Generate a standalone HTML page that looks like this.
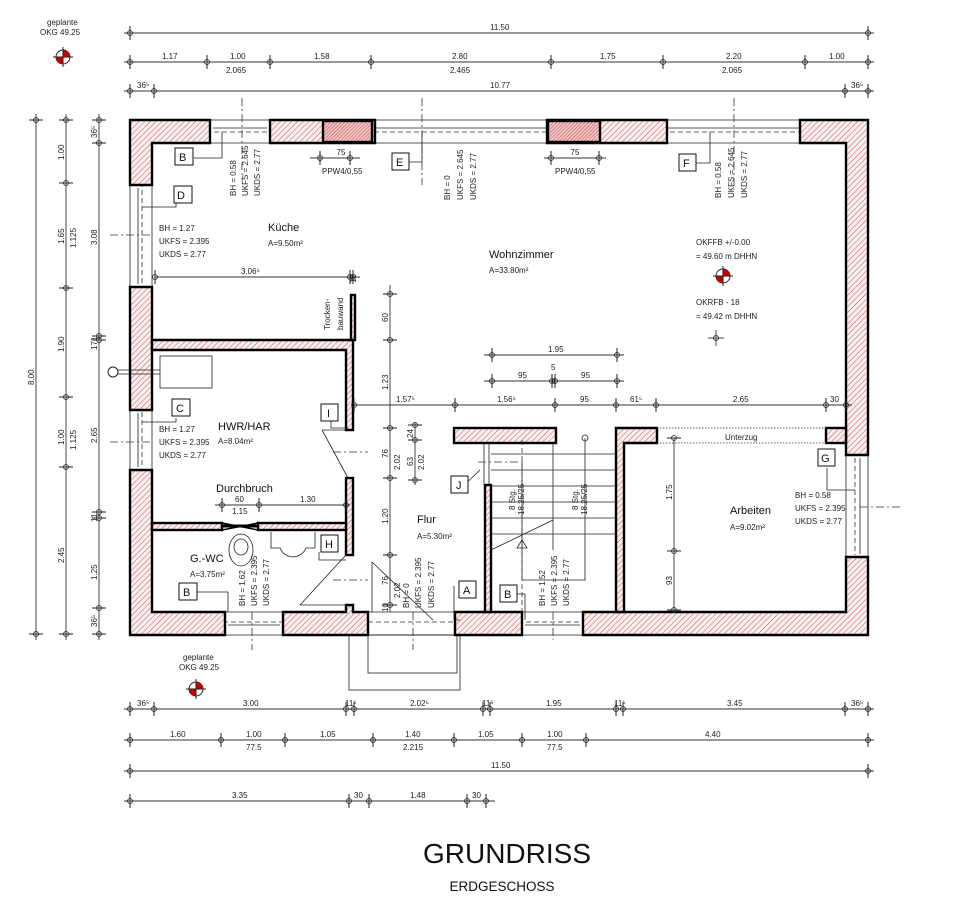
<!DOCTYPE html>
<html><head><meta charset="utf-8"><style>
html,body{margin:0;padding:0;background:#fff;}
svg{display:block;font-family:"Liberation Sans",sans-serif;}
.t{font-size:8px;fill:#222;}
.r{font-size:11px;fill:#111;}
.w{fill:url(#h);stroke:#000;stroke-width:2.4;}
.ws{fill:url(#h2);stroke:#000;stroke-width:2.4;}
.dl{stroke:#333;stroke-width:0.9;fill:none;}
.thin{stroke:#222;stroke-width:0.8;fill:none;}
.dash{stroke:#333;stroke-width:0.8;stroke-dasharray:5 3;fill:none;}
.dd{stroke:#333;stroke-width:0.8;stroke-dasharray:8 3 2 3;fill:none;}
.bx{fill:#fff;stroke:#111;stroke-width:1;}
</style></head><body>
<svg width="964" height="900" viewBox="0 0 964 900" xmlns="http://www.w3.org/2000/svg">
<defs>
<pattern id="h" width="4" height="4" patternUnits="userSpaceOnUse" patternTransform="rotate(45)">
<rect width="4" height="4" fill="#fbeeee"/><line x1="0" y1="0" x2="0" y2="4" stroke="#c4575a" stroke-width="1"/></pattern>
<pattern id="h2" width="2.5" height="2.5" patternUnits="userSpaceOnUse" patternTransform="rotate(45)">
<rect width="3" height="3" fill="#f1c6c6"/><line x1="0" y1="0" x2="0" y2="3" stroke="#c0484c" stroke-width="1"/></pattern>
<g id="tk"><line x1="0" y1="-7" x2="0" y2="7" stroke="#222" stroke-width="1"/><circle r="2.5" fill="none" stroke="#222" stroke-width="0.8"/></g>
<g id="tv"><line x1="-7" y1="0" x2="7" y2="0" stroke="#222" stroke-width="1"/><circle r="2.5" fill="none" stroke="#222" stroke-width="0.8"/></g>
<g id="lv"><circle r="7" fill="#fff" stroke="#222" stroke-width="1"/><path d="M0,0 L0,-7 A7,7 0 0 1 7,0 Z" fill="#c00"/><path d="M0,0 L0,7 A7,7 0 0 1 -7,0 Z" fill="#c00"/><line x1="-10" y1="0" x2="10" y2="0" stroke="#222"/><line x1="0" y1="-10" x2="0" y2="10" stroke="#222"/></g>
</defs>

<!-- top dimension lines -->
<line class="dl" x1="124" y1="33" x2="874" y2="33"/>
<use href="#tk" x="130" y="33"/><use href="#tk" x="868" y="33"/>
<text class="t" x="490" y="30">11.50</text>
<line class="dl" x1="124" y1="62" x2="874" y2="62"/>
<use href="#tk" x="130" y="62"/><use href="#tk" x="207" y="62"/><use href="#tk" x="270" y="62"/><use href="#tk" x="371" y="62"/><use href="#tk" x="551" y="62"/><use href="#tk" x="663" y="62"/><use href="#tk" x="805" y="62"/><use href="#tk" x="868" y="62"/>
<text class="t" x="162" y="59">1.17</text><text class="t" x="230" y="59">1.00</text><text class="t" x="226" y="73">2.065</text>
<text class="t" x="314" y="59">1.58</text><text class="t" x="452" y="59">2.80</text><text class="t" x="450" y="73">2.465</text>
<text class="t" x="600" y="59">1.75</text><text class="t" x="726" y="59">2.20</text><text class="t" x="722" y="73">2.065</text><text class="t" x="829" y="59">1.00</text>
<line class="dl" x1="124" y1="91" x2="874" y2="91"/>
<use href="#tk" x="130" y="91"/><use href="#tk" x="154" y="91"/><use href="#tk" x="845" y="91"/><use href="#tk" x="868" y="91"/>
<text class="t" x="137" y="88">36⁵</text><text class="t" x="490" y="88">10.77</text><text class="t" x="851" y="88">36⁵</text>

<!-- left dimension lines -->
<line class="dl" x1="36" y1="114" x2="36" y2="640"/>
<use href="#tv" x="36" y="120"/><use href="#tv" x="36" y="634"/>
<text class="t" transform="translate(34,385) rotate(-90)">8.00</text>
<line class="dl" x1="66" y1="114" x2="66" y2="640"/>
<use href="#tv" x="66" y="120"/><use href="#tv" x="66" y="183"/><use href="#tv" x="66" y="288"/><use href="#tv" x="66" y="397"/><use href="#tv" x="66" y="467"/><use href="#tv" x="66" y="634"/>
<text class="t" transform="translate(64,160) rotate(-90)">1.00</text>
<text class="t" transform="translate(64,244) rotate(-90)">1.65</text><text class="t" transform="translate(76,248) rotate(-90)">1.125</text>
<text class="t" transform="translate(64,352) rotate(-90)">1.90</text>
<text class="t" transform="translate(64,445) rotate(-90)">1.00</text><text class="t" transform="translate(76,450) rotate(-90)">1.125</text>
<text class="t" transform="translate(64,563) rotate(-90)">2.45</text>
<line class="dl" x1="99" y1="114" x2="99" y2="640"/>
<use href="#tv" x="99" y="120"/><use href="#tv" x="99" y="143"/><use href="#tv" x="99" y="336"/><use href="#tv" x="99" y="340"/><use href="#tv" x="99" y="512"/><use href="#tv" x="99" y="518"/><use href="#tv" x="99" y="608"/><use href="#tv" x="99" y="634"/>
<text class="t" transform="translate(97,138) rotate(-90)">36⁵</text>
<text class="t" transform="translate(97,245) rotate(-90)">3.08</text>
<text class="t" transform="translate(97,350) rotate(-90)">171</text>
<text class="t" transform="translate(97,443) rotate(-90)">2.65</text>
<text class="t" transform="translate(97,522) rotate(-90)">11</text>
<text class="t" transform="translate(97,580) rotate(-90)">1.25</text>
<text class="t" transform="translate(97,627) rotate(-90)">36⁵</text>

<!-- level markers -->
<text class="t" x="47" y="25" font-size="7">geplante</text><text class="t" x="40" y="35" font-size="7">OKG 49.25</text>
<use href="#lv" x="63" y="57"/>
<text class="t" x="183" y="660" font-size="7">geplante</text><text class="t" x="179" y="670" font-size="7">OKG 49.25</text>
<use href="#lv" x="196" y="689"/>

<!-- porch -->
<rect class="thin" x="349" y="635" width="111" height="55" stroke-width="1"/>
<rect class="thin" x="368" y="635" width="89" height="38" stroke-width="1"/>

<!-- window openings (frame lines) -->
<g class="thin">
<line x1="210" y1="120" x2="270" y2="120"/><line x1="210" y1="143" x2="270" y2="143"/><line x1="213" y1="128" x2="267" y2="128"/>
<line x1="375" y1="120" x2="547" y2="120"/><line x1="375" y1="143" x2="547" y2="143"/><line x1="372" y1="128" x2="550" y2="128"/>
<line x1="667" y1="120" x2="800" y2="120"/><line x1="667" y1="143" x2="800" y2="143"/><line x1="664" y1="128" x2="803" y2="128"/>
<line x1="130" y1="185" x2="130" y2="287"/><line x1="152" y1="185" x2="152" y2="287"/><line x1="138" y1="188" x2="138" y2="284"/>
<line x1="130" y1="410" x2="130" y2="470"/><line x1="152" y1="410" x2="152" y2="470"/><line x1="138" y1="413" x2="138" y2="467"/>
<line x1="868" y1="455" x2="868" y2="557"/><line x1="846" y1="455" x2="846" y2="557"/><line x1="860" y1="458" x2="860" y2="554"/>
<line x1="225" y1="635" x2="283" y2="635"/><line x1="225" y1="612" x2="283" y2="612"/><line x1="228" y1="625" x2="280" y2="625"/>
<line x1="368" y1="635" x2="455" y2="635"/><line x1="368" y1="612" x2="455" y2="612"/>
<line x1="522" y1="635" x2="583" y2="635"/><line x1="522" y1="612" x2="583" y2="612"/><line x1="525" y1="625" x2="580" y2="625"/>
</g>
<g class="dash">
<line x1="150" y1="132" x2="860" y2="132"/>
<line x1="142" y1="150" x2="142" y2="285"/><line x1="142" y1="412" x2="142" y2="468"/>
<line x1="855" y1="458" x2="855" y2="555"/>
<line x1="215" y1="622" x2="300" y2="622"/><line x1="360" y1="622" x2="470" y2="622"/><line x1="510" y1="622" x2="595" y2="622"/>
</g>

<!-- outer walls -->
<path class="w" d="M130,120 H210 V143 H152 V185 H130 Z"/>
<path class="w" d="M270,120 H375 V143 H270 Z"/>
<rect class="ws" x="323" y="121" width="49" height="21" stroke="none"/>
<path class="w" d="M547,120 H667 V143 H547 Z"/>
<rect class="ws" x="548" y="121" width="52" height="21" stroke="none"/>
<path class="w" d="M800,120 H868 V455 H846 V143 H800 Z"/>
<path class="w" d="M130,287 H152 V410 H130 Z"/>
<path class="w" d="M130,470 H152 V612 H225 V635 H130 Z"/>
<path class="w" d="M283,612 H346 V605 H353 V612 H368 V635 H283 Z"/>
<path class="w" d="M455,612 H522 V635 H455 Z"/>
<path class="w" d="M583,612 H846 V557 H868 V635 H583 Z"/>
<!-- interior walls -->
<path class="w" d="M152,340 H353 V430 H346 V350 H152 Z"/>
<rect class="w" x="351" y="295" width="4" height="45"/>
<rect class="w" x="346" y="478" width="7" height="77"/>
<rect class="w" x="152" y="523" width="70" height="7"/>
<rect class="w" x="258" y="523" width="88" height="7"/>
<rect class="w" x="454" y="428" width="102" height="15"/>
<rect class="w" x="485" y="485" width="6" height="127"/>
<path class="w" d="M616,428 H657 V443 H624 V612 H616 Z"/>
<rect class="w" x="826" y="428" width="20" height="15"/>

<!-- Durchbruch -->
<path d="M222,523 L258,530 M222,530 L258,523" stroke="#000" stroke-width="1.5"/>
<line x1="222" y1="526" x2="258" y2="526" stroke="#000" stroke-width="3"/>

<!-- stairs -->
<g class="thin">
<line x1="491" y1="454" x2="616" y2="454"/><line x1="491" y1="470" x2="616" y2="470"/><line x1="491" y1="486" x2="616" y2="486"/>
<line x1="491" y1="502" x2="616" y2="502"/><line x1="491" y1="518" x2="616" y2="518"/><line x1="491" y1="534" x2="616" y2="534"/>
<line x1="553" y1="443" x2="553" y2="550"/><line x1="491" y1="550" x2="553" y2="520"/>
<line x1="484" y1="443" x2="484" y2="485"/><line x1="489" y1="443" x2="489" y2="485"/>
<path d="M522,540 L517,548 L527,548 Z"/>
<polyline points="522,460 522,580 585,580 585,438"/><circle cx="585" cy="438" r="3"/>
</g>
<line class="dash" x1="522" y1="440" x2="522" y2="612"/>
<text class="t" transform="translate(515,510) rotate(-90)" font-size="7">8 Stg.</text>
<text class="t" transform="translate(524,515) rotate(-90)" font-size="7">18.25/25</text>
<text class="t" transform="translate(578,510) rotate(-90)" font-size="7">8 Stg.</text>
<text class="t" transform="translate(587,515) rotate(-90)" font-size="7">18.25/25</text>

<!-- Unterzug -->
<line x1="657" y1="428" x2="826" y2="428" stroke="#333" stroke-width="0.8" stroke-dasharray="1.5 1.5"/>
<line x1="657" y1="443" x2="826" y2="443" stroke="#333" stroke-width="0.8" stroke-dasharray="1.5 1.5"/>
<text class="t" x="725" y="440" font-size="10">Unterzug</text>

<!-- doors -->
<g class="thin">
<polyline points="322,430 348,430"/><line x1="322" y1="430" x2="348" y2="478"/>
<line x1="300" y1="605" x2="346" y2="555"/><line x1="300" y1="605" x2="346" y2="605"/>
<line x1="372" y1="562" x2="433" y2="620"/><line x1="372" y1="562" x2="372" y2="612"/>
</g>
<line class="dd" x1="333" y1="452" x2="368" y2="452"/><line class="dd" x1="333" y1="580" x2="368" y2="580"/>
<line class="dd" x1="110" y1="235" x2="150" y2="235"/><line class="dd" x1="110" y1="442" x2="150" y2="442"/>
<line class="dd" x1="860" y1="507" x2="900" y2="507"/><line class="dd" x1="478" y1="462" x2="520" y2="462"/>
<line class="dd" x1="242" y1="98" x2="242" y2="180"/><line class="dd" x1="422" y1="98" x2="422" y2="185"/><line class="dd" x1="734" y1="98" x2="734" y2="190"/>
<line class="dd" x1="252" y1="612" x2="252" y2="650"/><line class="dd" x1="413" y1="612" x2="413" y2="650"/><line class="dd" x1="553" y1="612" x2="553" y2="640"/>

<!-- fixtures -->
<rect class="thin" x="160" y="356" width="52" height="32" stroke-width="1"/>
<circle cx="113" cy="372" r="5" fill="#fff" stroke="#222"/><line class="thin" x1="118" y1="370" x2="160" y2="370"/><line class="thin" x1="118" y1="374" x2="160" y2="374"/>
<ellipse class="thin" cx="241" cy="550" rx="12" ry="16"/><ellipse class="thin" cx="241" cy="547" rx="7" ry="8"/>
<path class="thin" d="M271,532 V548 H280 A14,14 0 0 0 306,548 H315 V532"/>

<!-- inner dimensions -->
<line class="dl" x1="155" y1="277" x2="360" y2="277"/><use href="#tk" x="155" y="277"/><use href="#tk" x="350" y="277"/><use href="#tk" x="353" y="277"/>
<text class="t" x="241" y="274">3.06⁵</text><text class="t" transform="translate(356,283) rotate(-90)" font-size="6">10</text>
<line class="dl" x1="390" y1="285" x2="390" y2="612"/>
<use href="#tv" x="390" y="294"/><use href="#tv" x="390" y="340"/><use href="#tv" x="390" y="428"/><use href="#tv" x="390" y="478"/><use href="#tv" x="390" y="555"/><use href="#tv" x="390" y="605"/>
<text class="t" transform="translate(388,322) rotate(-90)">60</text><text class="t" transform="translate(388,390) rotate(-90)">1.23</text>
<text class="t" transform="translate(388,458) rotate(-90)">76</text><text class="t" transform="translate(400,470) rotate(-90)">2.02</text>
<text class="t" transform="translate(388,524) rotate(-90)">1.20</text><text class="t" transform="translate(388,585) rotate(-90)">76</text>
<text class="t" transform="translate(400,598) rotate(-90)">2.02</text><text class="t" transform="translate(388,612) rotate(-90)">10</text>
<line class="dl" x1="415" y1="422" x2="415" y2="485"/><use href="#tv" x="415" y="425"/><use href="#tv" x="415" y="440"/><use href="#tv" x="415" y="480"/>
<text class="t" transform="translate(413,438) rotate(-90)" font-size="7">24</text><text class="t" transform="translate(413,466) rotate(-90)">63</text><text class="t" transform="translate(424,470) rotate(-90)">2.02</text>
<line class="dl" x1="354" y1="405" x2="852" y2="405"/>
<use href="#tk" x="354" y="405"/><use href="#tk" x="455" y="405"/><use href="#tk" x="555" y="405"/><use href="#tk" x="616" y="405"/><use href="#tk" x="656" y="405"/><use href="#tk" x="826" y="405"/><use href="#tk" x="846" y="405"/>
<text class="t" x="396" y="402">1.57⁵</text><text class="t" x="497" y="402">1.56⁵</text><text class="t" x="580" y="402">95</text><text class="t" x="630" y="402">61⁵</text><text class="t" x="733" y="402">2.65</text><text class="t" x="830" y="402">30</text>
<line class="dl" x1="484" y1="355" x2="624" y2="355"/><use href="#tk" x="492" y="355"/><use href="#tk" x="617" y="355"/><text class="t" x="548" y="352">1.95</text>
<line class="dl" x1="484" y1="381" x2="624" y2="381"/><use href="#tk" x="492" y="381"/><use href="#tk" x="552" y="381"/><use href="#tk" x="555" y="381"/><use href="#tk" x="617" y="381"/>
<text class="t" x="518" y="378">95</text><text class="t" x="551" y="370">5</text><text class="t" x="581" y="378">95</text>
<line class="dl" x1="674" y1="438" x2="674" y2="612"/><use href="#tv" x="674" y="438"/><use href="#tv" x="674" y="551"/><use href="#tv" x="674" y="610"/>
<text class="t" transform="translate(672,500) rotate(-90)">1.75</text><text class="t" transform="translate(672,585) rotate(-90)">93</text>
<line class="dl" x1="215" y1="505" x2="350" y2="505"/><use href="#tk" x="222" y="505"/><use href="#tk" x="259" y="505"/><use href="#tk" x="346" y="505"/>
<text class="t" x="235" y="502">60</text><text class="t" x="232" y="514">1.15</text><text class="t" x="300" y="502">1.30</text>
<line class="dl" x1="310" y1="158" x2="360" y2="158"/><use href="#tk" x="320" y="158"/><use href="#tk" x="350" y="158"/><text class="t" x="341" y="155" text-anchor="middle">75</text><text class="t" x="322" y="174">PPW4/0,55</text>
<line class="dl" x1="544" y1="158" x2="606" y2="158"/><use href="#tk" x="551" y="158"/><use href="#tk" x="599" y="158"/><text class="t" x="575" y="155" text-anchor="middle">75</text><text class="t" x="555" y="174">PPW4/0,55</text>

<!-- room labels -->
<text class="r" x="268" y="231">Küche</text><text class="t" x="268" y="246">A=9.50m²</text>
<text class="r" x="489" y="258">Wohnzimmer</text><text class="t" x="489" y="273">A=33.80m²</text>
<text class="r" x="218" y="430">HWR/HAR</text><text class="t" x="218" y="444">A=8.04m²</text>
<text class="r" x="216" y="492">Durchbruch</text>
<text class="r" x="190" y="562">G.-WC</text><text class="t" x="190" y="577">A=3.75m²</text>
<text class="r" x="417" y="523">Flur</text><text class="t" x="417" y="539">A=5.30m²</text>
<text class="r" x="730" y="514">Arbeiten</text><text class="t" x="730" y="530">A=9.02m²</text>
<text class="t" x="696" y="245">OKFFB +/-0.00</text><text class="t" x="696" y="259">= 49.60 m DHHN</text>
<use href="#lv" x="723" y="276"/>
<text class="t" x="696" y="305">OKRFB - 18</text><text class="t" x="696" y="319">= 49.42 m DHHN</text>
<line class="thin" x1="716" y1="330" x2="716" y2="346"/><line class="thin" x1="708" y1="338" x2="724" y2="338"/><circle class="thin" cx="716" cy="338" r="2.5"/>

<!-- window tags -->
<g class="thin"><polyline points="194,158 222,158 222,132"/><polyline points="176,195 176,207 142,207"/><polyline points="408,162 422,162 422,132"/><polyline points="696,163 710,163 710,132"/>
<polyline points="176,418 176,422 142,422"/><polyline points="331,418 331,428 348,428"/><polyline points="319,552 319,560 346,560"/><polyline points="454,586 454,620 460,620"/>
<polyline points="459,490 480,470"/><polyline points="517,594 525,594 525,620"/><polyline points="196,592 228,592 228,612"/><polyline points="827,468 827,490 855,490"/></g>
<rect class="bx" x="175" y="148" width="18" height="17"/><text class="r" x="179" y="161">B</text>
<rect class="bx" x="174" y="186" width="18" height="17"/><text class="r" x="177" y="199">D</text>
<rect class="bx" x="392" y="153" width="17" height="17"/><text class="r" x="396" y="166">E</text>
<rect class="bx" x="679" y="154" width="17" height="17"/><text class="r" x="683" y="167">F</text>
<rect class="bx" x="172" y="399" width="18" height="17"/><text class="r" x="176" y="412">C</text>
<rect class="bx" x="321" y="404" width="17" height="17"/><text class="r" x="327" y="417">I</text>
<rect class="bx" x="321" y="535" width="17" height="17"/><text class="r" x="325" y="548">H</text>
<rect class="bx" x="451" y="476" width="17" height="17"/><text class="r" x="456" y="489">J</text>
<rect class="bx" x="459" y="581" width="17" height="17"/><text class="r" x="463" y="594">A</text>
<rect class="bx" x="179" y="583" width="18" height="17"/><text class="r" x="183" y="596">B</text>
<rect class="bx" x="500" y="585" width="17" height="17"/><text class="r" x="504" y="598">B</text>
<rect class="bx" x="818" y="449" width="17" height="17"/><text class="r" x="821" y="462">G</text>

<!-- window data -->
<text class="t" x="159" y="231">BH = 1.27</text><text class="t" x="159" y="244">UKFS = 2.395</text><text class="t" x="159" y="257">UKDS = 2.77</text>
<text class="t" x="159" y="432">BH = 1.27</text><text class="t" x="159" y="445">UKFS = 2.395</text><text class="t" x="159" y="458">UKDS = 2.77</text>
<text class="t" x="795" y="498">BH = 0.58</text><text class="t" x="795" y="511">UKFS = 2.395</text><text class="t" x="795" y="524">UKDS = 2.77</text>
<g class="t">
<text transform="translate(236,196) rotate(-90)">BH = 0.58</text><text transform="translate(248,196) rotate(-90)">UKFS = 2.645</text><text transform="translate(260,196) rotate(-90)">UKDS = 2.77</text>
<text transform="translate(450,200) rotate(-90)">BH = 0</text><text transform="translate(463,200) rotate(-90)">UKFS = 2.645</text><text transform="translate(476,200) rotate(-90)">UKDS = 2.77</text>
<text transform="translate(721,198) rotate(-90)">BH = 0.58</text><text transform="translate(734,198) rotate(-90)">UKFS = 2.645</text><text transform="translate(747,198) rotate(-90)">UKDS = 2.77</text>
<text transform="translate(245,606) rotate(-90)">BH = 1.62</text><text transform="translate(257,606) rotate(-90)">UKFS = 2.395</text><text transform="translate(269,606) rotate(-90)">UKDS = 2.77</text>
<text transform="translate(409,608) rotate(-90)">BH = 0</text><text transform="translate(421,608) rotate(-90)">UKFS = 2.395</text><text transform="translate(434,608) rotate(-90)">UKDS = 2.77</text>
<text transform="translate(545,606) rotate(-90)">BH = 1.52</text><text transform="translate(557,606) rotate(-90)">UKFS = 2.395</text><text transform="translate(569,606) rotate(-90)">UKDS = 2.77</text>
</g>
<text class="t" transform="translate(330,330) rotate(-90)" font-size="10">Trocken-</text>
<text class="t" transform="translate(343,330) rotate(-90)" font-size="10">bauwand</text>

<!-- bottom dimension lines -->
<line class="dl" x1="124" y1="709" x2="874" y2="709"/>
<use href="#tk" x="130" y="709"/><use href="#tk" x="154" y="709"/><use href="#tk" x="346" y="709"/><use href="#tk" x="354" y="709"/><use href="#tk" x="483" y="709"/><use href="#tk" x="490" y="709"/><use href="#tk" x="616" y="709"/><use href="#tk" x="623" y="709"/><use href="#tk" x="845" y="709"/><use href="#tk" x="868" y="709"/>
<text class="t" x="137" y="706">36⁵</text><text class="t" x="243" y="706">3.00</text><text class="t" x="345" y="706">11⁵</text><text class="t" x="410" y="706">2.02⁵</text><text class="t" x="482" y="706">11⁵</text><text class="t" x="546" y="706">1.95</text><text class="t" x="614" y="706">11⁵</text><text class="t" x="727" y="706">3.45</text><text class="t" x="851" y="706">36⁵</text>
<line class="dl" x1="124" y1="740" x2="874" y2="740"/>
<use href="#tk" x="130" y="740"/><use href="#tk" x="221" y="740"/><use href="#tk" x="285" y="740"/><use href="#tk" x="373" y="740"/><use href="#tk" x="454" y="740"/><use href="#tk" x="522" y="740"/><use href="#tk" x="586" y="740"/><use href="#tk" x="868" y="740"/>
<text class="t" x="170" y="737">1.60</text><text class="t" x="246" y="737">1.00</text><text class="t" x="246" y="750">77.5</text><text class="t" x="320" y="737">1.05</text><text class="t" x="405" y="737">1.40</text><text class="t" x="403" y="750">2.215</text><text class="t" x="478" y="737">1.05</text><text class="t" x="547" y="737">1.00</text><text class="t" x="547" y="750">77.5</text><text class="t" x="705" y="737">4.40</text>
<line class="dl" x1="124" y1="771" x2="874" y2="771"/><use href="#tk" x="130" y="771"/><use href="#tk" x="868" y="771"/>
<text class="t" x="491" y="768">11.50</text>
<line class="dl" x1="124" y1="801" x2="495" y2="801"/>
<use href="#tk" x="130" y="801"/><use href="#tk" x="349" y="801"/><use href="#tk" x="369" y="801"/><use href="#tk" x="467" y="801"/><use href="#tk" x="486" y="801"/>
<text class="t" x="232" y="798">3.35</text><text class="t" x="354" y="798">30</text><text class="t" x="410" y="798">1.48</text><text class="t" x="472" y="798">30</text>

<!-- title -->
<text x="507" y="863" text-anchor="middle" font-size="28" fill="#111">GRUNDRISS</text>
<text x="502" y="891" text-anchor="middle" font-size="13.5" fill="#111">ERDGESCHOSS</text>
</svg>
</body></html>
